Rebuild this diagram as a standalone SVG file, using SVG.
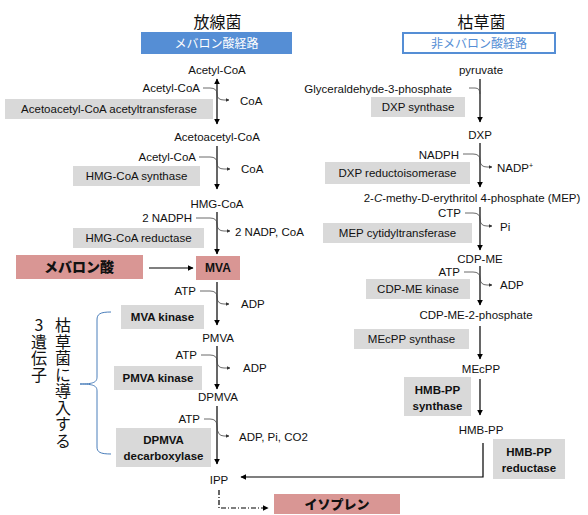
<svg xmlns="http://www.w3.org/2000/svg" width="588" height="515" viewBox="0 0 588 515">
<defs>
<marker id="ah" viewBox="0 0 10 10" refX="9" refY="5" markerWidth="6" markerHeight="7" markerUnits="userSpaceOnUse" orient="auto-start-reverse"><path d="M0,0 L10,5 L0,10 Z" fill="#000"/></marker>
<marker id="sm" viewBox="0 0 10 10" refX="9" refY="5" markerWidth="3.5" markerHeight="3.5" markerUnits="userSpaceOnUse" orient="auto"><path d="M0,0 L10,5 L0,10 Z" fill="#333"/></marker>
<style>
text{font-family:"Liberation Sans",Arial,"Noto Sans CJK JP",sans-serif;font-size:11.5px;fill:#111}
.c{text-anchor:middle}
.e{text-anchor:end}
.b{font-weight:bold}
.jp{font-family:"Noto Sans CJK JP",sans-serif}
.gray{fill:#D9D9D9}
.pink{fill:#D99694}
.main{stroke:#000;stroke-width:1.2;fill:none}
.side{stroke:#444;stroke-width:0.8;fill:none}
.vert{font-family:"Noto Sans CJK JP",sans-serif;font-size:16px;writing-mode:vertical-rl;text-orientation:upright;letter-spacing:0.5px}
</style>
</defs>

<g id="titles">
<text class="c jp" x="217.5" y="28" style="font-size:16px">放線菌</text>
<text class="c jp" x="481.5" y="28" style="font-size:16px">枯草菌</text>
</g>
<g id="mva-pathway-label">
<rect x="141" y="32" width="151" height="22" fill="#558ED5"/>
<text class="c jp" x="216.5" y="47.5" style="font-size:12px;fill:#fff">メバロン酸経路</text>
</g>
<g id="nonmva-pathway-label">
<rect x="403" y="33" width="152" height="20" fill="#fff" stroke="#558ED5" stroke-width="2"/>
<text class="c jp" x="479" y="47.5" style="font-size:12px;fill:#558ED5">非メバロン酸経路</text>
</g>

<g id="connectors">
<line class="main" x1="217" y1="79" x2="217" y2="124" marker-start="url(#ah)" marker-end="url(#ah)"/>
<line class="main" x1="217" y1="146" x2="217" y2="189" marker-end="url(#ah)"/>
<line class="main" x1="217" y1="212" x2="217" y2="254" marker-end="url(#ah)"/>
<line class="main" x1="217" y1="282" x2="217" y2="325" marker-end="url(#ah)"/>
<line class="main" x1="217" y1="346" x2="217" y2="389" marker-end="url(#ah)"/>
<line class="main" x1="217" y1="406" x2="217" y2="464" marker-end="url(#ah)"/>
<line class="main" x1="149" y1="268" x2="193" y2="268" marker-end="url(#ah)"/>
<path class="side" d="M203,88 L210,88 Q217,88 217,94 Q217,100 224,100 L229,100" marker-end="url(#sm)"/>
<path class="side" d="M199,157 L210,157 Q217,157 217,163 Q217,169 224,169 L230,169" marker-end="url(#sm)"/>
<path class="side" d="M196,218 L210,218 Q217,218 217,224 Q217,231 224,231 L230,231" marker-end="url(#sm)"/>
<path class="side" d="M200,291 L210,291 Q217,291 217,297 Q217,304 224,304 L229,304" marker-end="url(#sm)"/>
<path class="side" d="M201,355 L210,355 Q217,355 217,361 Q217,368 224,368 L230,368" marker-end="url(#sm)"/>
<path class="side" d="M204,419 L210,419 Q217,419 217,426 Q217,436 224,436 L229,436" marker-end="url(#sm)"/>
<line class="main" x1="480" y1="79" x2="480" y2="122" marker-end="url(#ah)"/>
<line class="main" x1="480" y1="143" x2="480" y2="187" marker-end="url(#ah)"/>
<line class="main" x1="480" y1="207" x2="480" y2="250" marker-end="url(#ah)"/>
<line class="main" x1="480" y1="266" x2="480" y2="305" marker-end="url(#ah)"/>
<line class="main" x1="480" y1="326" x2="480" y2="359" marker-end="url(#ah)"/>
<line class="main" x1="480" y1="379" x2="480" y2="415" marker-end="url(#ah)"/>
<path class="side" d="M469,88 L475,88 Q480,88 480,94"/>
<path class="side" d="M463,154 L473,154 Q480,154 480,160 Q480,167 487,167 L492,167" marker-end="url(#sm)"/>
<path class="side" d="M465,213 L473,213 Q480,213 480,219 Q480,226 487,226 L492,226" marker-end="url(#sm)"/>
<path class="side" d="M464,272 L473,272 Q480,272 480,278 Q480,285 487,285 L492,285" marker-end="url(#sm)"/>
<path class="main" d="M483,443 L483,477 L241,477" marker-end="url(#ah)"/>
<path class="main" d="M219,490 L219,508 L268,508" stroke-dasharray="5,2,1,2" marker-end="url(#ah)"/>
<path d="M111,312 C100,312 97,314 97,320 L97,377 C97,382 94,384 80,384 C94,384 97,386 97,391 L97,447 C97,452 100,454 111,454" fill="none" stroke="#4A7EBB" stroke-width="1"/>
</g>

<g id="acetylcoa"><text class="c" x="217" y="74">Acetyl-CoA</text></g>
<g id="r1-side"><text class="e" x="200" y="92">Acetyl-CoA</text><text x="240" y="105">CoA</text></g>
<g id="enz-aat"><rect class="gray" x="5" y="99" width="208" height="20"/><text class="c" x="109" y="113">Acetoacetyl-CoA acetyltransferase</text></g>
<g id="acetoacetylcoa"><text class="c" x="217" y="141">Acetoacetyl-CoA</text></g>
<g id="r2-side"><text class="e" x="196" y="161">Acetyl-CoA</text><text x="241" y="173">CoA</text></g>
<g id="enz-hmgs"><rect class="gray" x="73" y="166" width="127" height="20"/><text class="c" x="136.5" y="180">HMG-CoA synthase</text></g>
<g id="hmgcoa"><text class="c" x="217" y="208">HMG-CoA</text></g>
<g id="r3-side"><text class="e" x="192" y="222">2 NADPH</text><text x="235" y="236">2 NADP, CoA</text></g>
<g id="enz-hmgr"><rect class="gray" x="73" y="228" width="131" height="20"/><text class="c" x="138.5" y="242">HMG-CoA reductase</text></g>
<g id="mevalonic-acid"><rect class="pink" x="16" y="255" width="127" height="24"/><text class="c b jp" x="79" y="272" style="font-size:14px;font-weight:900">メバロン酸</text></g>
<g id="mva"><rect class="pink" x="196" y="256" width="44" height="24"/><text class="c b" x="218" y="272" style="font-size:12px">MVA</text></g>
<g id="r4-side"><text class="e" x="196" y="295">ATP</text><text x="241" y="308">ADP</text></g>
<g id="enz-mvak"><rect class="gray" x="121" y="305" width="83" height="24"/><text class="c b" x="162.5" y="321">MVA kinase</text></g>
<g id="pmva"><text class="c" x="218" y="342">PMVA</text></g>
<g id="r5-side"><text class="e" x="197" y="359">ATP</text><text x="243" y="372">ADP</text></g>
<g id="enz-pmvak"><rect class="gray" x="114" y="366" width="88" height="24"/><text class="c b" x="158" y="382">PMVA kinase</text></g>
<g id="dpmva"><text class="c" x="218" y="401">DPMVA</text></g>
<g id="r6-side"><text class="e" x="200" y="423">ATP</text><text x="239" y="441">ADP, Pi, CO2</text></g>
<g id="enz-dpmvad"><rect class="gray" x="116" y="428" width="95" height="39"/><text class="c b" x="163.5" y="444"><tspan x="163.5">DPMVA</tspan><tspan x="163.5" dy="15.5">decarboxylase</tspan></text></g>
<g id="ipp"><text class="c" x="219" y="484">IPP</text></g>
<g id="isoprene"><rect class="pink" x="274" y="494" width="126" height="20"/><text class="c b jp" x="337" y="509" style="font-size:13px;font-weight:900">イソプレン</text></g>

<g id="gene-note">
<text class="vert" x="63" y="317">枯草菌に導入する</text>
<text class="vert" x="39" y="317">3遺伝子</text>
</g>

<g id="pyruvate"><text class="c" x="481" y="74">pyruvate</text></g>
<g id="r7-side"><text class="e" x="452" y="93">Glyceraldehyde-3-phosphate</text></g>
<g id="enz-dxps"><rect class="gray" x="371" y="97" width="94" height="20"/><text class="c" x="418" y="111">DXP synthase</text></g>
<g id="dxp"><text class="c" x="480" y="139">DXP</text></g>
<g id="r8-side"><text class="e" x="459" y="159">NADPH</text><text x="497" y="172">NADP<tspan style="font-size:7px" dy="-4">+</tspan></text></g>
<g id="enz-dxr"><rect class="gray" x="325" y="162" width="145" height="22"/><text class="c" x="397.5" y="177">DXP reductoisomerase</text></g>
<g id="mep"><text class="c" x="472" y="202">2-<tspan font-style="italic">C</tspan>-methy-D-erythritol 4-phosphate (MEP)</text></g>
<g id="r9-side"><text class="e" x="461" y="217">CTP</text><text x="500" y="231">Pi</text></g>
<g id="enz-mct"><rect class="gray" x="323" y="223" width="149" height="20"/><text class="c" x="397.5" y="237">MEP cytidyltransferase</text></g>
<g id="cdpme"><text class="c" x="480" y="263">CDP-ME</text></g>
<g id="r10-side"><text class="e" x="460" y="276">ATP</text><text x="500" y="289">ADP</text></g>
<g id="enz-cmk"><rect class="gray" x="366" y="279" width="104" height="20"/><text class="c" x="418" y="293">CDP-ME kinase</text></g>
<g id="cdpme2p"><text class="c" x="476" y="319">CDP-ME-2-phosphate</text></g>
<g id="enz-mcs"><rect class="gray" x="354" y="329" width="115" height="20"/><text class="c" x="411.5" y="343">MEcPP synthase</text></g>
<g id="mecpp"><text class="c" x="481" y="373">MEcPP</text></g>
<g id="enz-hds"><rect class="gray" x="404" y="377" width="67" height="39"/><text class="c b" x="437.5" y="394"><tspan x="437.5">HMB-PP</tspan><tspan x="437.5" dy="15.5">synthase</tspan></text></g>
<g id="hmbpp"><text class="c" x="481" y="434">HMB-PP</text></g>
<g id="enz-hdr"><rect class="gray" x="493" y="439" width="72" height="40"/><text class="c b" x="529" y="456"><tspan x="529">HMB-PP</tspan><tspan x="529" dy="15.5">reductase</tspan></text></g>
</svg>
